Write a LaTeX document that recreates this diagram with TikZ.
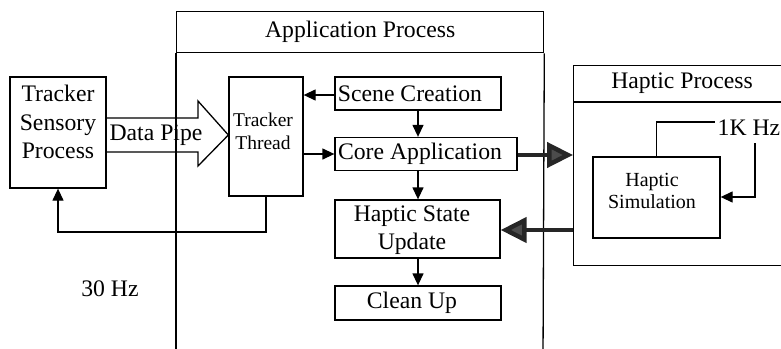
\documentclass[tikz,border=0pt]{standalone}
\usepackage{fontspec}
\setmainfont{Liberation Serif}
\usetikzlibrary{arrows.meta}
\begin{document}
\begin{tikzpicture}[x=1pt,y=-1pt,
  box/.style={draw, line width=1.3pt, inner sep=0pt},
  lbl/.style={font=\fontsize{23.7}{28.5}\selectfont, align=center, inner sep=0pt},
  smalllbl/.style={font=\fontsize{19.5}{23}\selectfont, align=center, inner sep=0pt},
  simlbl/.style={font=\fontsize{20}{22}\selectfont, align=center, inner sep=0pt},
  ln/.style={line width=1.3pt},
  arr/.style={line width=1.3pt, -{Triangle[width=11pt,length=12pt]}},
  bigarrow/.style={line width=4.5pt, black!85, -{Triangle[width=25pt,length=26pt,fill=black!70]}}]
\useasboundingbox (0,0) rectangle (781,348);
% Application process frame
\node[box, minimum width=367, minimum height=41, anchor=north west, lbl] (apt) at (176,11) {Application Process};
\draw[ln] (apt.south west) -- (176,360);
\draw[ln] (apt.south east) -- (543,360);
% Haptic process frame
\node[box, minimum width=230, minimum height=200, anchor=north west] (hp) at (573,65) {};
\draw[ln] (573,102) -- (803,102);
\node[lbl] (hpt) at (682,83) {Haptic Process};
% boxes
\node[box, minimum width=96, minimum height=111] (tsp) at (58,132.5) {};
\node[lbl] (tsptxt) at (58,122) {Tracker\\Sensory\\Process};
\node[box, minimum width=74, minimum height=119] (tt) at (266,136.5) {};
\node[smalllbl] (tttxt) at (263,131) {Tracker\\Thread};
\node[box, minimum width=166, minimum height=33] (sc) at (418,93.5) {};
\node[lbl] (sctxt) at (410,94) {Scene Creation};
\node[box, minimum width=182, minimum height=33] (core) at (426,154) {};
\node[lbl] (coretxt) at (420,154) {Core Application};
\node[box, minimum width=165, minimum height=58] (hsu) at (417.5,229) {};
\node[lbl] (hsutxt) at (412,230) {Haptic State\\Update};
\node[box, minimum width=166, minimum height=34] (cu) at (418,303) {};
\node[lbl] (cutxt) at (412,303) {Clean Up};
\node[box, minimum width=127, minimum height=81] (hs) at (656.5,197.5) {};
\node[simlbl] (hstxt) at (652,191) {Haptic\\Simulation};
\node[lbl] (khz) at (749,128) {1K Hz};
\node[lbl] (hz30) at (110,289) {30 Hz};
% data pipe
\coordinate (p1) at (tsp.east |- 0,118);
\coordinate (p7) at (tsp.east |- 0,152);
\draw[ln] (p1) -- (198,118) -- (198,101) -- (tt.west |- 0,135) -- (198,166) -- (198,152) -- (p7);
\node[lbl] (dp) at (156,135) {Data Pipe};
% arrows
\draw[arr] (sc.west |- 0,95) -- (tt.east |- 0,95);
\draw[arr] (tt.east |- 0,154) -- (core.west |- 0,154);
\draw[arr] (sc.south -| 418,0) -- (core.north -| 418,0);
\draw[arr] (core.south -| 418,0) -- (hsu.north -| 418,0);
\draw[arr] (hsu.south -| 418,0) -- (cu.north -| 418,0);
\coordinate (fb) at (58,232);
\draw[arr] (tt.south) |- (fb) -- (tsp.south);
\draw[bigarrow] (core.east |- 0,155) -- (hp.west |- 0,155);
\draw[bigarrow] (hp.west |- 0,230) -- (hsu.east |- 0,230);
% 1K Hz loop
\coordinate (l1) at (715,122);
\coordinate (l2) at (755,143);
\draw[ln] (hs.north) |- (l1);
\draw[arr] (l2) |- (hs.east |- 0,197);
\end{tikzpicture}
\end{document}
